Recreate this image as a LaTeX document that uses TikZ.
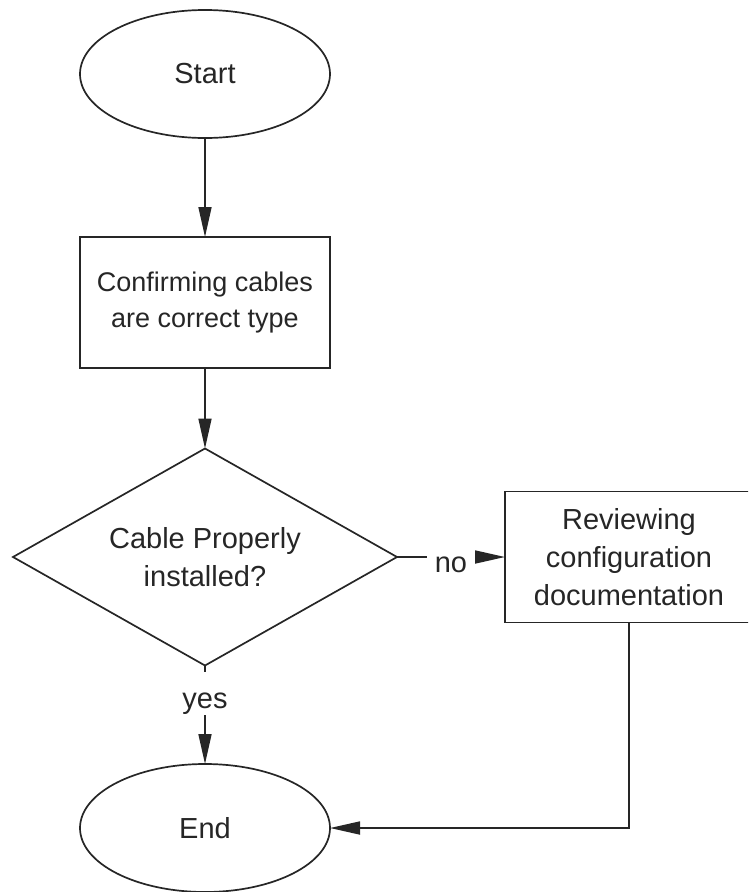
\documentclass[tikz,border=0pt]{standalone}
\usepackage{fontspec}
\setmainfont{Liberation Sans}
\usetikzlibrary{arrows.meta,shapes.geometric}

\begin{document}
\begin{tikzpicture}[x=1pt, y=-1pt, line width=1.7pt, color=black!85,
		every node/.style={font=\fontsize{29}{38}\selectfont, align=center, outer sep=0pt},
		term/.style={draw, ellipse, minimum width=250pt, minimum height=128pt, inner sep=0pt},
		procbox/.style={draw, rectangle, minimum width=250pt, minimum height=131pt},
		decide/.style={draw, diamond, aspect=1.77, minimum width=384pt, minimum height=217pt, inner sep=0pt},
		flow/.style={-{Triangle[length=30pt, width=13pt]}},
		lbl/.style={fill=white, inner xsep=8pt}]
			%%%%% START %%%%%
			
			\clip (0, 0) rectangle (748, 892);
			
			\node[term] (start) at (205, 74) {Start};
			\node[procbox, font=\fontsize{27}{36}\selectfont] (confirm) at (205, 302.5) {Confirming cables\\are correct type};
			\node[decide] (check) at (205, 557) {Cable Properly\\installed?};
			\node[procbox, minimum width=248pt] (review) at (629, 557) {Reviewing\\configuration\\documentation};
			\node[term] (end) at (205, 828) {End};
			
			\draw[flow] (start) -- (confirm);
			\draw[flow] (confirm) -- (check);
			\draw[flow] (check.east) -- node[lbl, yshift=-8pt] {no} (review.west);
			\draw[flow] (check.south) -- node[lbl, pos=0.288, text height=36pt, text depth=7pt, inner ysep=0pt] {yes} (end.north);
			\draw[flow] (review.south) |- (end.east);
			
			%%%%% END %%%%%
		\end{tikzpicture}
\end{document}
